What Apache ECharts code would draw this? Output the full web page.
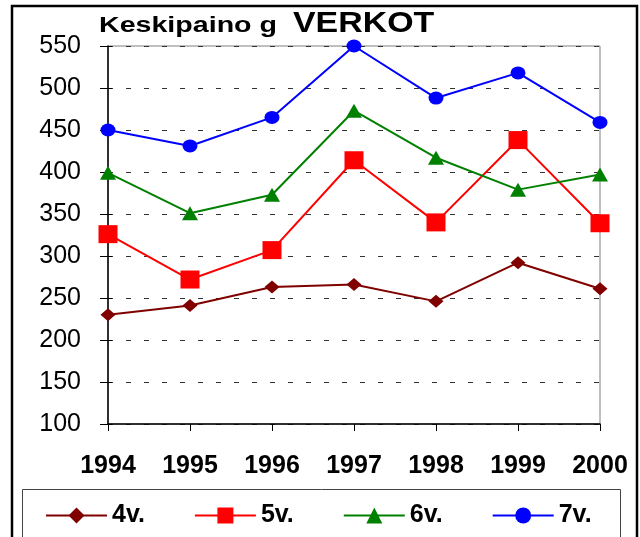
<!DOCTYPE html>
<html>
<head>
<meta charset="utf-8">
<script src="https://cdn.jsdelivr.net/npm/echarts@6/dist/echarts.min.js"></script>
<style>
html,body{margin:0;padding:0;background:#fff;}
#chart{width:640px;height:537px;}
</style>
</head>
<body>
<div id="chart"></div>
<script>
const years = ['1994','1995','1996','1997','1998','1999','2000'];
const v4 = [230, 241, 263, 266, 246, 292, 261];
const v5 = [326, 272, 307, 414, 340, 438, 339];
const v6 = [399, 351, 373, 473, 417, 379, 397];
const v7 = [450, 431, 465, 550, 488, 518, 459];
const seriesNames = ['4v.', '5v.', '6v.', '7v.'];
const yMin = 100, yMax = 550, yStep = 50;

const chart = echarts.init(document.getElementById('chart'));
const font = '"Liberation Sans", Arial, sans-serif';

function mkSeries(name, data, color, symbol, size) {
  return {
    name: name, type: 'line', data: data,
    symbol: symbol, symbolSize: size,
    lineStyle: {color: color, width: 2},
    itemStyle: {color: color},
    z: 5, animation: false
  };
}

chart.setOption({
  animation: false,
  backgroundColor: '#fff',
  grid: {left: 108, top: 46, width: 492, height: 378, show: true,
         borderColor: '#808080', borderWidth: 1, backgroundColor: 'transparent'},
  xAxis: {
    type: 'category', data: years, boundaryGap: false,
    axisLine: {lineStyle: {color: '#000', width: 1.5}},
    axisTick: {show: true, inside: false, length: 7, lineStyle: {color: '#000'}, alignWithLabel: true},
    axisLabel: {color: '#000', fontFamily: font, fontWeight: 'bold', fontSize: 25, margin: 30},
    splitLine: {show: false}
  },
  yAxis: [{
    type: 'value', min: yMin, max: yMax, interval: yStep, position: 'left',
    axisLine: {show: true, lineStyle: {color: '#000', width: 1.5}},
    axisTick: {show: true, length: 8, lineStyle: {color: '#000'}},
    axisLabel: {color: '#000', fontFamily: font, fontSize: 25, margin: 27},
    splitLine: {show: true, lineStyle: {color: '#333', type: [5, 13], width: 1}}
  }, {
    type: 'value', min: yMin, max: yMax, interval: yStep, position: 'left', offset: 0,
    axisLine: {show: false},
    axisTick: {show: true, inside: true, length: 4, lineStyle: {color: '#000'}},
    axisLabel: {show: false},
    splitLine: {show: false}
  }],
  legend: {
    data: seriesNames,
    left: 45, top: 503, padding: 0,
    itemWidth: 61, itemHeight: 20, itemGap: 49,
    textStyle: {color: '#000', fontFamily: font, fontWeight: 'bold', fontSize: 25}
  },
  graphic: [
    {type: 'rect', shape: {x: 12, y: 6, width: 625, height: 545},
     style: {fill: 'none', stroke: '#000', lineWidth: 2.5}, z: 0},
    {type: 'rect', shape: {x: 22.5, y: 489.5, width: 598, height: 60},
     style: {fill: 'none', stroke: '#444', lineWidth: 1}, z: 0},
    {type: 'text', x: 99, y: 15, scaleX: 1.3,
     style: {text: 'Keskipaino g', fill: '#000', fontFamily: font, fontWeight: 'bold', fontSize: 22, verticalAlign: 'top'}},
    {type: 'text', x: 293, y: 9, scaleX: 1.13,
     style: {text: 'VERKOT', fill: '#000', fontFamily: font, fontWeight: 'bold', fontSize: 30, verticalAlign: 'top'}}
  ],
  series: [
    mkSeries(seriesNames[0], v4, '#800000', 'diamond', [15, 13]),
    mkSeries(seriesNames[1], v5, '#FF0000', 'rect', [19, 18]),
    mkSeries(seriesNames[2], v6, '#008000', 'triangle', [16, 14]),
    mkSeries(seriesNames[3], v7, '#0000FF', 'circle', [15, 13])
  ]
});
</script>
</body>
</html>
